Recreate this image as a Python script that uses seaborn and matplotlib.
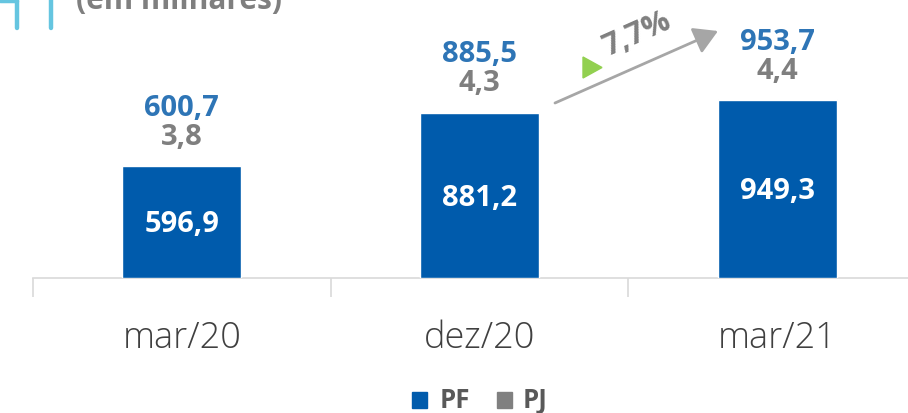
import matplotlib
matplotlib.use("Agg")
import matplotlib.pyplot as plt
from matplotlib.patches import FancyArrowPatch, Rectangle, Polygon
from matplotlib.lines import Line2D
import seaborn as sns
import pandas as pd

periodos = ["mar/20", "dez/20", "mar/21"]
pf = [596.9, 881.2, 949.3]
pj = [3.8, 4.3, 4.4]
total = [600.7, 885.5, 953.7]
crescimento = "7,7%"

azul = "#005BAC"
azul_txt = "#2E75B6"
cinza = "#808080"
cinza_txt = "#7F7F7F"
teal = "#65C5E0"

sns.set_theme(style="white")
plt.rcParams["font.family"] = ["Open Sans", "DejaVu Sans"]

df = pd.DataFrame({"periodo": periodos, "PF": pf, "PJ": pj, "total": total})

W, H = 908, 413
fig = plt.figure(figsize=(W / 100, H / 100), dpi=100)
ax = fig.add_axes([33 / W, (H - 278) / H, 1 - 33 / W, 278 / H])


def fx(px):
    return px / W


def fy(py):
    return 1 - py / H


# stacked: total (gray PJ on top) behind, PF in front
sns.barplot(data=df, x="periodo", y="total", color=cinza, width=0.4,
            saturation=1, ax=ax, zorder=2)
sns.barplot(data=df, x="periodo", y="PF", color=azul, width=0.4,
            saturation=1, ax=ax, zorder=3)

ax.set_xlim(-0.5, 2.44)
ax.set_ylim(0, 1483)
ax.set_xlabel("")
ax.set_ylabel("")
ax.set_yticks([])
for s in ["top", "right", "left"]:
    ax.spines[s].set_visible(False)
ax.spines["bottom"].set_color("#D9D9D9")
ax.spines["bottom"].set_linewidth(1.2)

# category separators as major ticks, names on minor ticks at centers
ax.set_xticks([-0.5, 0.5, 1.5])
ax.set_xticklabels([])
ax.tick_params(axis="x", which="major", direction="out", length=14,
               width=1.2, color="#D9D9D9", bottom=True)
ax.set_xticks(range(len(periodos)), minor=True)
ax.set_xticklabels(periodos, minor=True)
ax.tick_params(axis="x", which="minor", length=0, pad=30,
               labelsize=26, labelcolor="#404040")
for lbl in ax.get_xticklabels(minor=True):
    lbl.set_fontweight("light")


def fmt(v):
    return f"{v:.1f}".replace(".", ",")


for i in range(len(periodos)):
    ax.text(i, pf[i] / 2 - 15, fmt(pf[i]), ha="center", va="center",
            color="white", fontsize=21, fontweight="bold")
    ax.text(i, total[i] + 150, fmt(pj[i]), ha="center", va="center",
            color=cinza_txt, fontsize=21, fontweight="bold")
    ax.text(i, total[i] + 305, fmt(total[i]), ha="center", va="center",
            color=azul_txt, fontsize=21, fontweight="bold")

# growth arrow dez/20 -> mar/21
fig.patches.append(FancyArrowPatch(
    (fx(555), fy(103)), (fx(718), fy(31)), transform=fig.transFigure,
    arrowstyle="-|>,head_length=12,head_width=7", color="#A6A6A6",
    lw=2.0, mutation_scale=1.2, shrinkA=0, shrinkB=0))
fig.patches.append(Polygon(
    [(fx(583), fy(57)), (fx(602), fy(67.5)), (fx(583), fy(78))],
    closed=True, transform=fig.transFigure, color="#92D050"))
fig.text(fx(637), fy(35), crescimento, color=cinza_txt, fontsize=22,
         fontweight="bold", rotation=24, ha="center", va="center",
         rotation_mode="anchor")

# header
fig.text(fx(76), fy(9), "(em milhares)", color=cinza_txt,
         fontsize=21.5, fontweight="bold", ha="left", va="baseline")
fig.add_artist(Line2D([fx(0), fx(17)], [fy(1), fy(1)], color=teal, lw=2.5))
for xp in (17, 50.5):
    fig.add_artist(Line2D([fx(xp), fx(xp)], [1, fy(28)], color=teal, lw=3.2))

# legend
fig.patches.append(Rectangle((fx(412), fy(408)), 15 / W, 16 / H,
                             transform=fig.transFigure, color=azul))
fig.text(fx(440), fy(400), "PF", color="#595959", fontsize=18.5,
         fontweight="bold", ha="left", va="center")
fig.patches.append(Rectangle((fx(497), fy(408)), 15 / W, 16 / H,
                             transform=fig.transFigure, color=cinza))
fig.text(fx(523), fy(400), "PJ", color="#595959", fontsize=18.5,
         fontweight="bold", ha="left", va="center")

fig.savefig("out.png", dpi=100)
